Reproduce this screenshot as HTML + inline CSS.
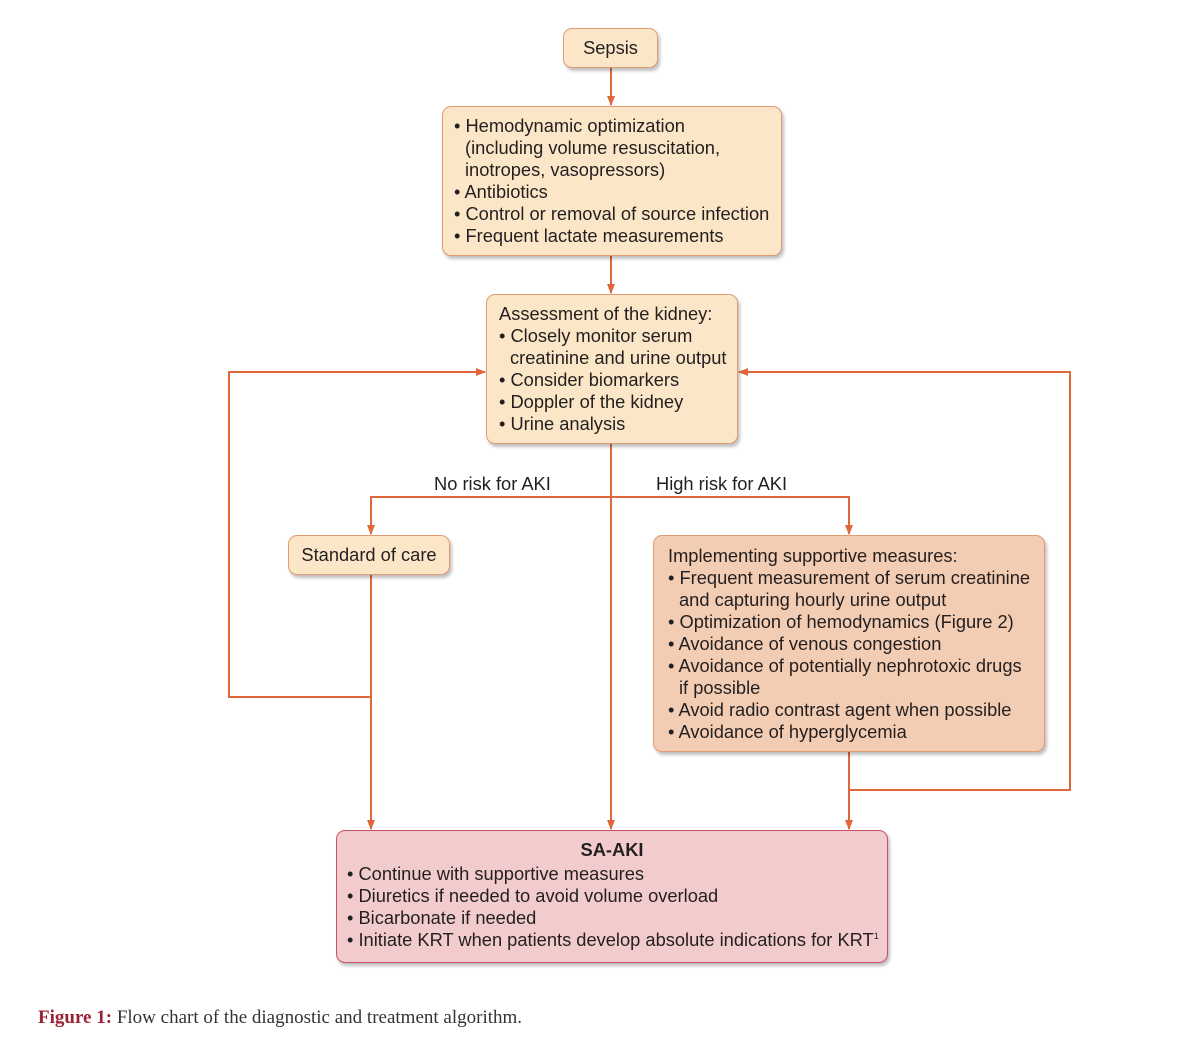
<!DOCTYPE html>
<html><head><style>
body{margin:0;width:1200px;height:1059px;background:#fff;position:relative;font-family:"Liberation Sans",sans-serif;color:#231f20;overflow:hidden}
.b{position:absolute;box-sizing:border-box;border:1.5px solid #e29a72;border-radius:9px;background:#fbe7c8;box-shadow:2px 3px 3px rgba(0,0,0,0.25);font-size:18.3px;line-height:22px;white-space:nowrap}
.t{position:absolute;font-size:18.3px;white-space:nowrap}
.i{padding-left:11px}
sup{font-size:9px;line-height:0;vertical-align:7px}
</style></head><body>
<svg width="1200" height="1059" style="position:absolute;left:0;top:0">
<defs><marker id="a" markerWidth="10" markerHeight="10" refX="9" refY="5" orient="auto" markerUnits="userSpaceOnUse"><path d="M0,1 L10,5 L0,9z" fill="#e0673a"/></marker></defs>
<g stroke="#e0673a" stroke-width="2" fill="none">
<path d="M611,68 V105" marker-end="url(#a)"/>
<path d="M611,256 V293" marker-end="url(#a)"/>
<path d="M611,444 V829" marker-end="url(#a)"/>
<path d="M371,534 V497 H849 V534" marker-end="url(#a)"/>
<path d="M371,497 V534" marker-end="url(#a)"/>
<path d="M371,575 V829" marker-end="url(#a)"/>
<path d="M371,697 H229 V372 H485" marker-end="url(#a)"/>
<path d="M849,752 V829" marker-end="url(#a)"/>
<path d="M849,790 H1070 V372 H739" marker-end="url(#a)"/>
</g></svg>
<div class="b" style="left:563px;top:28px;width:95px;height:40px;text-align:center;line-height:37px">Sepsis</div>
<div class="b" style="left:442px;top:106px;width:340px;height:150px;padding:8px 0 0 11px">• Hemodynamic optimization<br><span class="i">(including volume resuscitation,</span><br><span class="i">inotropes, vasopressors)</span><br>• Antibiotics<br>• Control or removal of source infection<br>• Frequent lactate measurements</div>
<div class="b" style="left:486px;top:294px;width:252px;height:150px;padding:8px 0 0 12px">Assessment of the kidney:<br>• Closely monitor serum<br><span class="i">creatinine and urine output</span><br>• Consider biomarkers<br>• Doppler of the kidney<br>• Urine analysis</div>
<div class="t" style="left:434px;top:473px">No risk for AKI</div>
<div class="t" style="left:656px;top:473px">High risk for AKI</div>
<div class="b" style="left:288px;top:535px;width:162px;height:40px;text-align:center;line-height:38px">Standard of care</div>
<div class="b" style="left:653px;top:535px;width:392px;height:217px;padding:9px 0 0 14px;background:#f3cdb3">Implementing supportive measures:<br>• Frequent measurement of serum creatinine<br><span class="i">and capturing hourly urine output</span><br>• Optimization of hemodynamics (Figure 2)<br>• Avoidance of venous congestion<br>• Avoidance of potentially nephrotoxic drugs<br><span class="i">if possible</span><br>• Avoid radio contrast agent when possible<br>• Avoidance of hyperglycemia</div>
<div class="b" style="left:336px;top:830px;width:552px;height:133px;padding:8px 0 0 10px;background:#f2cccc;border-color:#c9506a">
<div style="text-align:center;font-weight:bold;margin-left:-10px;margin-bottom:2px">SA-AKI</div>
• Continue with supportive measures<br>• Diuretics if needed to avoid volume overload<br>• Bicarbonate if needed<br>• Initiate KRT when patients develop absolute indications for KRT<sup>1</sup></div>
<div class="t" style="left:38px;top:1007px;font-family:'Liberation Serif',serif;font-size:19px;color:#333"><b style="color:#9b2335">Figure 1:</b> Flow chart of the diagnostic and treatment algorithm.</div>
</body></html>
